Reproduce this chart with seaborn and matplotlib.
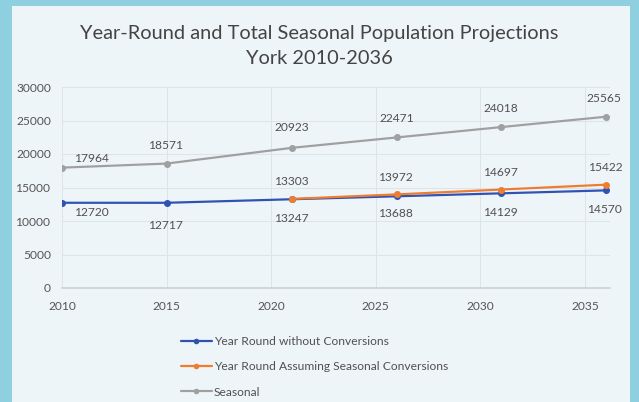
import matplotlib
matplotlib.use("Agg")
import matplotlib.pyplot as plt
import seaborn as sns
import pandas as pd
from matplotlib.patches import Rectangle

years = [2010, 2015, 2021, 2026, 2031, 2036]
year_round = [12720, 12717, 13247, 13688, 14129, 14570]
conv_years = [2021, 2026, 2031, 2036]
conversions = [13303, 13972, 14697, 15422]
seasonal = [17964, 18571, 20923, 22471, 24018, 25565]
x_ticks = [2010, 2015, 2020, 2025, 2030, 2035]
y_ticks = [0, 5000, 10000, 15000, 20000, 25000, 30000]

names = ["Year Round without Conversions",
         "Year Round Assuming Seasonal Conversions",
         "Seasonal"]
colors = ["#2f52b3", "#ee7d31", "#a0a0a0"]

sns.set_theme(style="white")
plt.rcParams['font.family'] = ['Lato', 'DejaVu Sans']

fig = plt.figure(figsize=(639/72, 402/72), dpi=72)
fig.patch.set_facecolor("#8ecfe0")
fig.patches.append(Rectangle((12/639, 0), (630-12)/639, (402-6)/402,
                             transform=fig.transFigure, facecolor="#eef5f8",
                             edgecolor="none", zorder=-5))

ax = fig.add_axes([62/639, 1-288/402, (610-62)/639, (288-87)/402])
ax.set_facecolor("none")
ax.set_zorder(2)

df1 = pd.DataFrame({"year": years, "value": year_round})
df2 = pd.DataFrame({"year": conv_years, "value": conversions})
df3 = pd.DataFrame({"year": years, "value": seasonal})

sns.lineplot(data=df3, x="year", y="value", ax=ax, color=colors[2], marker="o",
             markersize=7, linewidth=2.2, markeredgewidth=0, label=names[2], zorder=3)
sns.lineplot(data=df1, x="year", y="value", ax=ax, color=colors[0], marker="o",
             markersize=7, linewidth=2.2, markeredgewidth=0, label=names[0], zorder=3)
sns.lineplot(data=df2, x="year", y="value", ax=ax, color=colors[1], marker="o",
             markersize=7, linewidth=2.2, markeredgewidth=0, label=names[1], zorder=4)

ax.set_xlim(2010, 2036.2)
ax.set_ylim(0, 30000)
ax.set_xticks(x_ticks)
ax.set_yticks(y_ticks)
ax.grid(True, color="#dce4e7", linewidth=1.0)
ax.set_axisbelow(True)
for s in ["top", "right", "left"]:
    ax.spines[s].set_visible(False)
ax.spines["bottom"].set_color("#c8cccd")
ax.spines["bottom"].set_linewidth(1.5)
ax.tick_params(axis="both", length=0, labelsize=12, colors="#555555")
ax.tick_params(axis="x", pad=13)
ax.tick_params(axis="y", pad=11)
ax.set_xlabel("")
ax.set_ylabel("")

lab_kw = dict(textcoords="offset points", fontsize=12, color="#505050",
              ha="center", va="center")
s_off = [(30, 9), (0, 18), (0, 20), (0, 19), (0, 19), (-2, 18)]
for x, y, o in zip(years, seasonal, s_off):
    ax.annotate(f"{y}", (x, y), xytext=o, **lab_kw)
b_off = [(30, -10), (0, -23), (0, -19), (0, -17), (0, -19), (0, -19)]
for x, y, o in zip(years, year_round, b_off):
    ax.annotate(f"{y}", (x, y), xytext=o, **lab_kw)
for x, y in zip(conv_years, conversions):
    ax.annotate(f"{y}", (x, y), xytext=(0, 17), **lab_kw)

fig.text(0.5, 1-33/402, "Year-Round and Total Seasonal Population Projections",
         ha="center", va="center", fontsize=20, color="#444444")
fig.text(0.5, 1-58/402, "York 2010-2036", ha="center", va="center",
         fontsize=20, color="#444444")

h, l = ax.get_legend_handles_labels()
order = [l.index(n) for n in names]
ax.get_legend().remove()
fig.legend([h[i] for i in order], [l[i] for i in order],
           loc="upper left", bbox_to_anchor=(170/639, 1-325/402),
           frameon=False, fontsize=12, labelcolor="#505050",
           handlelength=2.6, handletextpad=0.15, labelspacing=1.2,
           markerscale=0.8)

fig.savefig("out.png", dpi=72, facecolor=fig.get_facecolor())
